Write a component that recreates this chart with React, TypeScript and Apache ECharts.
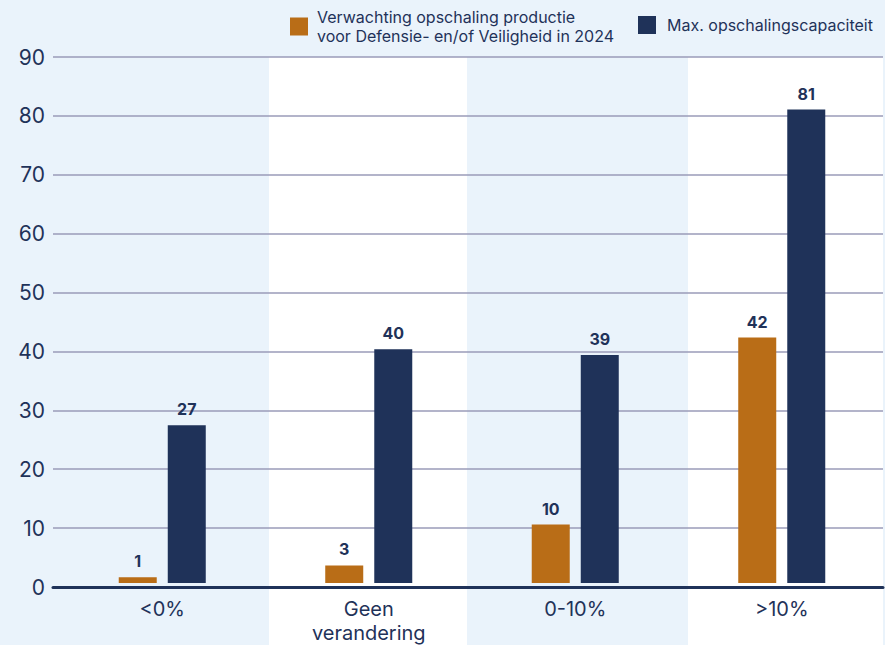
import React, { useEffect, useRef } from "react";
import * as echarts from "echarts";

const categories = ["<0%", "Geen\nverandering", "0-10%", ">10%"];
const seriesNames = [
  "Verwachting opschaling productie\nvoor Defensie- en/of Veiligheid in 2024",
  "Max. opschalingscapaciteit",
];
const expected = [1, 3, 10, 42];
const maxCapacity = [27, 40, 39, 81];

const NAVY = "#1f3259";
const ORANGE = "#b96d17";
const LIGHT = "#eaf3fb";
const FONT = "Inter";

export default function App() {
  const ref = useRef<HTMLDivElement>(null);
  useEffect(() => {
    if (!ref.current) return;
    const chart = echarts.init(ref.current, null, { renderer: "svg" });
    chart.setOption({
      animation: false,
      backgroundColor: LIGHT,
      textStyle: { fontFamily: FONT },
      graphic: [
        { type: "rect", z: -10, silent: true, shape: { x: 269, y: 57, width: 198, height: 600 }, style: { fill: "#ffffff" } },
        { type: "rect", z: -10, silent: true, shape: { x: 688, y: 57, width: 195, height: 600 }, style: { fill: "#ffffff" } },
      ],
      legend: [
        {
          data: [seriesNames[0]],
          left: 285,
          top: -7,
          itemWidth: 18,
          itemHeight: 18,
          itemGap: 8,
          icon: "rect",
          textStyle: { color: NAVY, fontSize: 16, fontFamily: FONT, lineHeight: 19, padding: [19, 0, 0, 4] },
        },
        {
          data: [seriesNames[1]],
          left: 633,
          top: 11,
          itemWidth: 18,
          itemHeight: 18,
          icon: "rect",
          textStyle: { color: NAVY, fontSize: 16, fontFamily: FONT, padding: [0, 0, 0, 6] },
        },
      ],
      grid: [
        { left: 53, right: 2, top: 57, bottom: 58, containLabel: false },
        { left: 59, right: -4, top: 57, bottom: 58, containLabel: false },
      ],
      xAxis: [
        {
          gridIndex: 0,
          type: "category",
          data: categories,
          axisLine: { show: true, lineStyle: { color: NAVY, width: 3 } },
          axisTick: { show: false },
          axisLabel: { show: false },
          z: 5,
        },
        {
          gridIndex: 1,
          type: "category",
          data: categories,
          axisLine: { show: false },
          axisTick: { show: false },
          axisLabel: { color: NAVY, fontSize: 20, fontFamily: FONT, margin: 14, lineHeight: 24 },
        },
      ],
      yAxis: [
        {
          gridIndex: 0,
          type: "value",
          min: 0,
          max: 90,
          interval: 10,
          axisLine: { show: false },
          axisTick: { show: false },
          axisLabel: { color: NAVY, fontSize: 21, fontFamily: FONT, margin: 8 },
          splitLine: { show: true, lineStyle: { color: "#9a9bb8", width: 1.5 } },
        },
        {
          gridIndex: 1,
          type: "value",
          min: 0,
          max: 90,
          interval: 10,
          show: false,
          splitLine: { show: false },
        },
      ],
      series: [
        {
          name: seriesNames[0],
          type: "bar",
          xAxisIndex: 1,
          yAxisIndex: 1,
          data: expected,
          barWidth: 38,
          barGap: "29%",
          itemStyle: { color: ORANGE },
          label: { show: true, position: "top", distance: 8, color: NAVY, fontSize: 16, fontWeight: "bold", fontFamily: FONT },
        },
        {
          name: seriesNames[1],
          type: "bar",
          xAxisIndex: 1,
          yAxisIndex: 1,
          data: maxCapacity,
          barWidth: 38,
          barGap: "29%",
          itemStyle: { color: NAVY },
          label: { show: true, position: "top", distance: 8, color: NAVY, fontSize: 16, fontWeight: "bold", fontFamily: FONT },
        },
      ],
    });
    return () => chart.dispose();
  }, []);
  return <div ref={ref} style={{ position: "fixed", left: 0, top: 0, width: 885, height: 645 }} />;
}
